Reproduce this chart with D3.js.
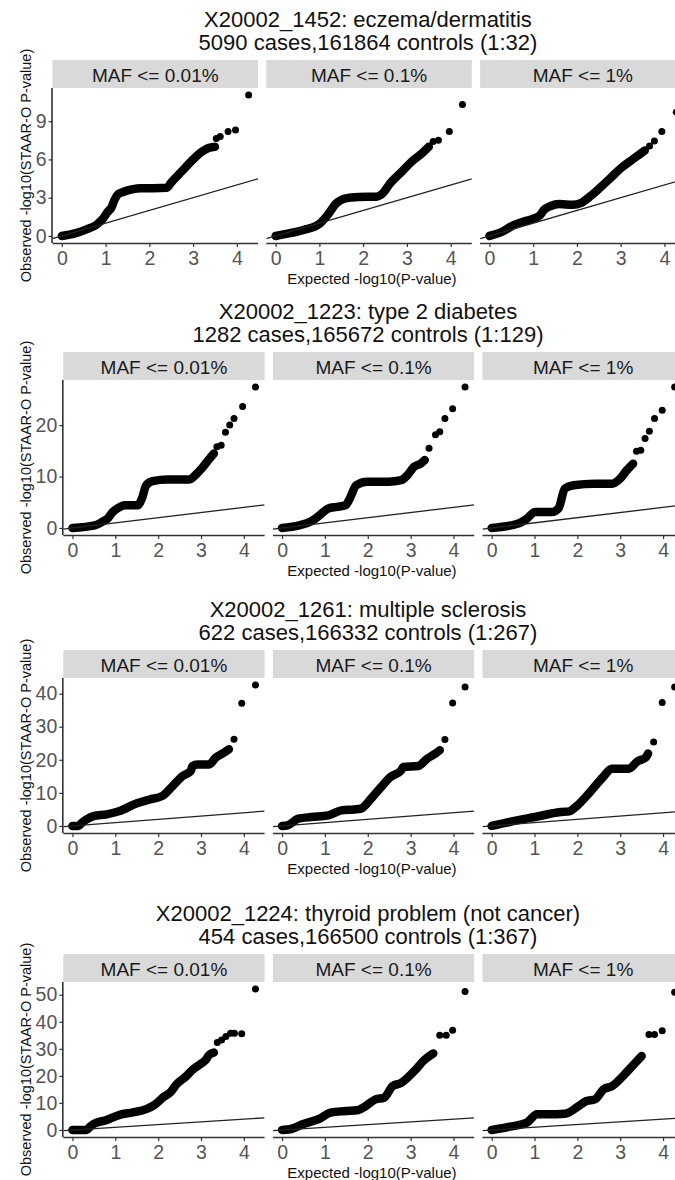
<!DOCTYPE html>
<html>
<head>
<meta charset="utf-8">
<script src="https://cdn.jsdelivr.net/npm/d3@7"></script>
<style>
  html, body { margin: 0; padding: 0; background: #fff; }
  svg text { font-family: "Liberation Sans", Arial, Helvetica, sans-serif; }
</style>
</head>
<body>
<svg id="chart" width="675" height="1180"></svg>
<script>
// ---------------- DATA ----------------
const facetLabels = ["MAF <= 0.01%", "MAF <= 0.1%", "MAF <= 1%"];
const traitTitles = [
  "X20002_1452: eczema/dermatitis",
  "X20002_1223: type 2 diabetes",
  "X20002_1261: multiple sclerosis",
  "X20002_1224: thyroid problem (not cancer)"
];
const traitSubtitles = [
  "5090 cases,161864 controls (1:32)",
  "1282 cases,165672 controls (1:129)",
  "622 cases,166332 controls (1:267)",
  "454 cases,166500 controls (1:367)"
];
const xTickValues = [0, 1, 2, 3, 4];
const yTickValues = [[0, 3, 6, 9], [0, 10, 20], [0, 10, 20, 30, 40], [0, 10, 20, 30, 40, 50]];
const xAxisTitle = "Expected -log10(P-value)";
const yAxisTitle = "Observed -log10(STAAR-O P-value)";

// Dense part of each QQ cloud: [expected, observed]
const eczemaDense = [
  [[0,0],[0.3,0.2],[0.55,0.5],[0.8,0.9],[0.95,1.4],[1.05,1.9],[1.13,2.2],[1.2,2.8],[1.28,3.25],[1.4,3.45],[1.6,3.65],[1.8,3.75],[2.1,3.75],[2.4,3.78],[2.5,4.2],[2.75,5.1],[3.0,6.0],[3.2,6.6],[3.35,6.9],[3.5,7.0]],
  [[0,0],[0.3,0.2],[0.62,0.45],[1.0,0.95],[1.2,1.7],[1.37,2.5],[1.6,2.95],[1.9,3.05],[2.3,3.08],[2.45,3.35],[2.6,4.05],[2.9,5.1],[3.1,5.8],[3.35,6.5],[3.5,7.0]],
  [[0,0],[0.3,0.35],[0.5,0.75],[0.8,1.15],[1.0,1.35],[1.15,1.6],[1.25,2.05],[1.4,2.35],[1.6,2.5],[1.9,2.45],[2.1,2.6],[2.3,3.1],[2.55,3.85],[2.8,4.65],[3.0,5.3],[3.25,5.95],[3.45,6.45],[3.55,6.7]]
];
const eczemaTop = [
  [[3.53,7.65],[3.62,7.8],[3.8,8.2],[3.97,8.3],[4.27,11.05]],
  [[3.6,7.4],[3.72,7.5],[3.97,8.2],[4.27,10.3]],
  [[3.66,7.05],[3.77,7.45],[3.94,8.2],[4.27,9.7]]
];
const diabetesDense = [
  [[0,0],[0.52,0.5],[0.72,1.3],[0.82,1.8],[0.94,3.1],[1.07,3.9],[1.22,4.4],[1.52,4.4],[1.62,5.7],[1.72,8.3],[1.87,9.1],[2.22,9.4],[2.72,9.4],[2.87,10.3],[3.02,11.6],[3.17,13.2],[3.3,14.5]],
  [[0,0],[0.4,0.5],[0.68,1.3],[0.88,2.5],[1.08,3.8],[1.28,4.1],[1.48,4.4],[1.58,5.7],[1.73,8.3],[1.98,9.0],[2.48,9.0],[2.78,9.3],[2.93,10.3],[3.08,11.9],[3.23,12.5],[3.33,13.2]],
  [[0,0],[0.62,0.85],[0.82,1.8],[1.01,3.1],[1.41,3.1],[1.56,3.8],[1.71,7.7],[1.91,8.3],[2.41,8.6],[2.81,8.6],[3.0,9.6],[3.15,11.2],[3.3,12.5]]
];
const diabetesTop = [
  [[3.37,15.8],[3.47,16.1],[3.57,18.6],[3.67,20.0],[3.77,21.3],[3.97,23.6],[4.27,27.4]],
  [[3.43,15.5],[3.58,18.1],[3.68,18.7],[3.8,21.3],[3.98,23.2],[4.27,27.4]],
  [[3.38,14.9],[3.48,15.1],[3.58,17.4],[3.68,18.8],[3.8,21.3],[3.98,22.9],[4.27,27.4]]
];
const sclerosisDense = [
  [[0,0],[0.14,0],[0.22,1.0],[0.33,2.0],[0.49,3.0],[0.8,3.5],[1.1,4.5],[1.49,6.8],[1.8,8.0],[2.1,9.1],[2.34,12.1],[2.57,15.1],[2.76,16.6],[2.8,18.1],[2.92,18.6],[3.19,18.6],[3.34,20.6],[3.54,22.2],[3.65,23.2]],
  [[0,0],[0.13,0.2],[0.38,2.2],[0.68,2.7],[1.08,3.2],[1.38,4.7],[1.68,5.0],[1.83,5.2],[2.08,8.3],[2.28,11.3],[2.53,14.8],[2.78,16.8],[2.83,17.8],[3.18,18.1],[3.38,20.3],[3.58,21.9],[3.68,22.9]],
  [[0,0],[0.42,1.2],[1.01,2.7],[1.61,4.2],[1.81,4.4],[2.0,6.2],[2.3,10.3],[2.6,14.8],[2.8,17.3],[3.2,17.3],[3.4,19.5],[3.6,20.8],[3.65,21.9]]
];
const sclerosisTop = [
  [[3.77,26.2],[3.95,37.1],[4.27,42.6]],
  [[3.8,26.1],[3.98,37.2],[4.27,42.0]],
  [[3.78,25.4],[3.98,37.3],[4.27,42.0]]
];
const thyroidDense = [
  [[0,0],[0.33,0],[0.41,1.2],[0.49,2.2],[0.8,3.7],[1.1,5.6],[1.41,6.5],[1.72,7.7],[1.92,9.3],[2.11,12.0],[2.3,14.2],[2.42,16.7],[2.65,19.8],[2.8,22.2],[2.96,24.1],[3.11,25.9],[3.19,27.8],[3.3,28.6]],
  [[0,0],[0.18,0.25],[0.48,2.1],[0.88,4.2],[1.13,6.4],[1.48,7.0],[1.78,7.4],[1.93,8.6],[2.18,11.3],[2.38,11.9],[2.58,16.2],[2.78,17.4],[3.08,21.7],[3.33,26.0],[3.53,28.3]],
  [[0,0],[0.42,1.2],[0.82,2.7],[1.06,5.8],[1.31,5.8],[1.71,6.0],[2.01,8.6],[2.21,10.7],[2.41,11.3],[2.61,15.0],[2.81,16.2],[3.1,20.5],[3.35,24.8],[3.5,27.3]]
];
const thyroidTop = [
  [[3.38,32.3],[3.48,33.3],[3.58,34.6],[3.69,35.8],[3.78,35.8],[3.95,35.6],[4.27,52.1]],
  [[3.68,35.0],[3.83,35.0],[3.98,36.9],[4.27,51.2]],
  [[3.67,35.3],[3.8,35.3],[3.98,36.7],[4.27,50.9]]
];

const rowsDense = [eczemaDense, diabetesDense, sclerosisDense, thyroidDense];
const rowsTop = [eczemaTop, diabetesTop, sclerosisTop, thyroidTop];

// ---------------- LAYOUT ----------------
const rowLeft = [52.5, 63.3, 63.3, 63.3];
const rowPanelW = [205.5, 201.3, 201.3, 201.3];
const panelGap = 8.3;
const stripTops = [60, 352, 650, 954];
const stripH = 28;
const panelH = 155;

const svg = d3.select("#chart");

const xMaxData = d3.max(rowsTop.flat(2), d => d[0]);
const xPad = xMaxData * 0.05;

rowsDense.forEach((dense, r) => {
  const top = rowsTop[r];
  const yMaxData = d3.max([...dense.flat(), ...top.flat()], d => d[1]);
  const yPad = yMaxData * 0.05;
  const pTop = stripTops[r] + stripH;
  const pBot = pTop + panelH;
  const panelW = rowPanelW[r];

  const y = d3.scaleLinear().domain([-yPad, yMaxData + yPad]).range([pBot, pTop]);

  // titles
  svg.append("text").attr("x", 368).attr("y", stripTops[r] - 41)
    .attr("text-anchor", "middle").attr("dominant-baseline", "central")
    .attr("font-size", 22).attr("fill", "#111").text(traitTitles[r]);
  svg.append("text").attr("x", 368).attr("y", stripTops[r] - 18)
    .attr("text-anchor", "middle").attr("dominant-baseline", "central")
    .attr("font-size", 22).attr("fill", "#111").text(traitSubtitles[r]);

  // y-axis title
  const yMid = (stripTops[r] + pBot) / 2 + 14;
  svg.append("text").attr("transform", `translate(26,${yMid}) rotate(-90)`)
    .attr("text-anchor", "middle").attr("dominant-baseline", "central")
    .attr("font-size", 14.5).attr("fill", "#111").text(yAxisTitle);

  // x-axis title
  svg.append("text").attr("x", 372).attr("y", pBot + 35)
    .attr("text-anchor", "middle").attr("dominant-baseline", "central")
    .attr("font-size", 15).attr("fill", "#111").text(xAxisTitle);

  facetLabels.forEach((lab, c) => {
    const left = rowLeft[r] + c * (panelW + panelGap);
    const x = d3.scaleLinear().domain([-xPad, xMaxData + xPad]).range([left, left + panelW]);

    // strip
    svg.append("rect").attr("x", left).attr("y", stripTops[r]).attr("width", panelW).attr("height", stripH)
      .attr("fill", "#D9D9D9");
    svg.append("text").attr("x", left + panelW / 2).attr("y", stripTops[r] + stripH / 2 + 1)
      .attr("text-anchor", "middle").attr("dominant-baseline", "central")
      .attr("font-size", 19).attr("fill", "#1A1A1A").text(lab);

    const clipId = `clip-${r}-${c}`;
    svg.append("clipPath").attr("id", clipId).append("rect")
      .attr("x", left).attr("y", pTop).attr("width", panelW).attr("height", panelH);
    const g = svg.append("g").attr("clip-path", `url(#${clipId})`);

    // dense cloud
    const line = d3.line().x(d => x(d[0])).y(d => y(d[1])).curve(d3.curveMonotoneX);
    g.append("path").datum(dense[c]).attr("d", line)
      .attr("fill", "none").attr("stroke", "#000").attr("stroke-width", 8.5)
      .attr("stroke-linecap", "round").attr("stroke-linejoin", "round");

    // isolated points
    g.selectAll(null).data(top[c]).enter().append("circle")
      .attr("cx", d => x(d[0])).attr("cy", d => y(d[1])).attr("r", 3.5).attr("fill", "#000");

    // y = x reference line
    const dom = x.domain();
    g.append("line")
      .attr("x1", x(dom[0])).attr("y1", y(dom[0]))
      .attr("x2", x(dom[1])).attr("y2", y(dom[1]))
      .attr("stroke", "#222").attr("stroke-width", 1.3);

    // x axis
    const xa = svg.append("g").attr("transform", `translate(0,${pBot})`)
      .call(d3.axisBottom(x).tickValues(xTickValues).tickSize(4).tickPadding(4).tickFormat(d3.format("d")));
    xa.select(".domain").attr("d", `M${left},0.5H${left + panelW}`).attr("stroke", "#333").attr("stroke-width", 1.6);
    xa.selectAll(".tick line").attr("stroke", "#333").attr("stroke-width", 1.2);
    xa.selectAll(".tick text").attr("font-size", 19.5).attr("fill", "#555").attr("font-family", null)
      .attr("dy", "0.72em");

    if (c === 0) {
      const ya = svg.append("g").attr("transform", `translate(${left},0)`)
        .call(d3.axisLeft(y).tickValues(yTickValues[r]).tickSize(4).tickPadding(2).tickFormat(d3.format("d")));
      ya.select(".domain").attr("d", `M-0.5,${pTop}V${pBot}`).attr("stroke", "#333").attr("stroke-width", 1.6);
      ya.selectAll(".tick line").attr("stroke", "#333").attr("stroke-width", 1.2);
      ya.selectAll(".tick text").attr("font-size", 19.5).attr("fill", "#555").attr("font-family", null);
    }
  });
});
</script>
</body>
</html>
